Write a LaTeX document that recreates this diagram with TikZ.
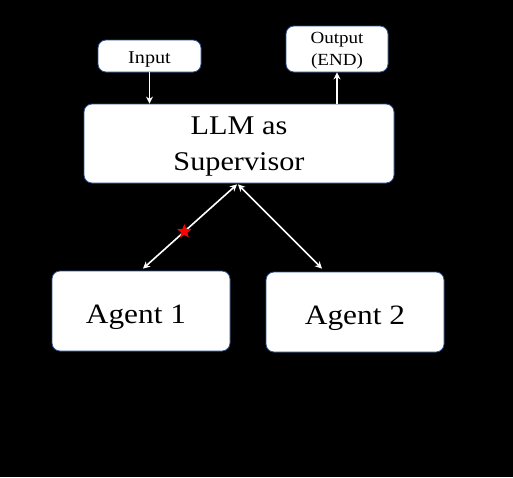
\documentclass[tikz,border=0pt]{standalone}
\usepackage{fontspec}
\setmainfont[FakeStretch=1.12]{Liberation Serif}
\usetikzlibrary{arrows.meta,shapes.geometric}
\definecolor{boxedge}{RGB}{47,82,143}

\begin{document}
\begin{tikzpicture}[x=1pt,y=-1pt,
    block/.style={fill=white, draw=boxedge, line width=0.8pt, rounded corners=8pt,
                  align=center, inner sep=0pt},
    link/.style={draw=white, line width=1.6pt, -{Stealth[length=7pt,width=7pt]}},
    twoway/.style={draw=white, line width=1.6pt,
                   {Stealth[length=7pt,width=7pt]}-{Stealth[length=7pt,width=7pt]}}]
  \useasboundingbox[fill=black] (0,0) rectangle (513,477);

  % boxes
  \node[block, minimum width=103pt, minimum height=32pt, text height=15pt, text depth=0pt,
        font=\fontsize{18}{20}\selectfont] (input) at (149.5,56) {Input};
  \node[block, minimum width=102pt, minimum height=46pt,
        font=\fontsize{17}{22}\selectfont] (output) at (337,49) {\rule{0pt}{14pt}Output\\(END)};
  \node[block, minimum width=310pt, minimum height=79pt,
        font=\fontsize{27}{36}\selectfont] (sup) at (239,143.5) {\rule{0pt}{24pt}LLM as\\Supervisor};
  \node[block, minimum width=178pt, minimum height=80pt, text height=24pt, text depth=0pt,
        font=\fontsize{28}{34}\selectfont] (agent1) at (141,311) {Agent 1\hspace{10pt}};
  \node[block, minimum width=178pt, minimum height=80pt, text height=24pt, text depth=0pt,
        font=\fontsize{28}{34}\selectfont] (agent2) at (355,312) {Agent 2};

  % connectors
  \draw[link] (input.south) -- (input.south |- sup.north);
  \draw[link] (output.south |- sup.north) -- (output.south);
  \draw[twoway] ([xshift=2pt,yshift=2pt]agent1.north) -- ([xshift=-2pt,yshift=-1pt]sup.south)
    node[pos=0.44, star, star points=5, star point ratio=2.3, fill=red,
         inner sep=0pt, minimum size=15pt] (redstar) {};
  \draw[twoway] ([xshift=-1pt,yshift=-1pt]sup.south) -- ([xshift=-33pt,yshift=3pt]agent2.north);
\end{tikzpicture}
\end{document}
